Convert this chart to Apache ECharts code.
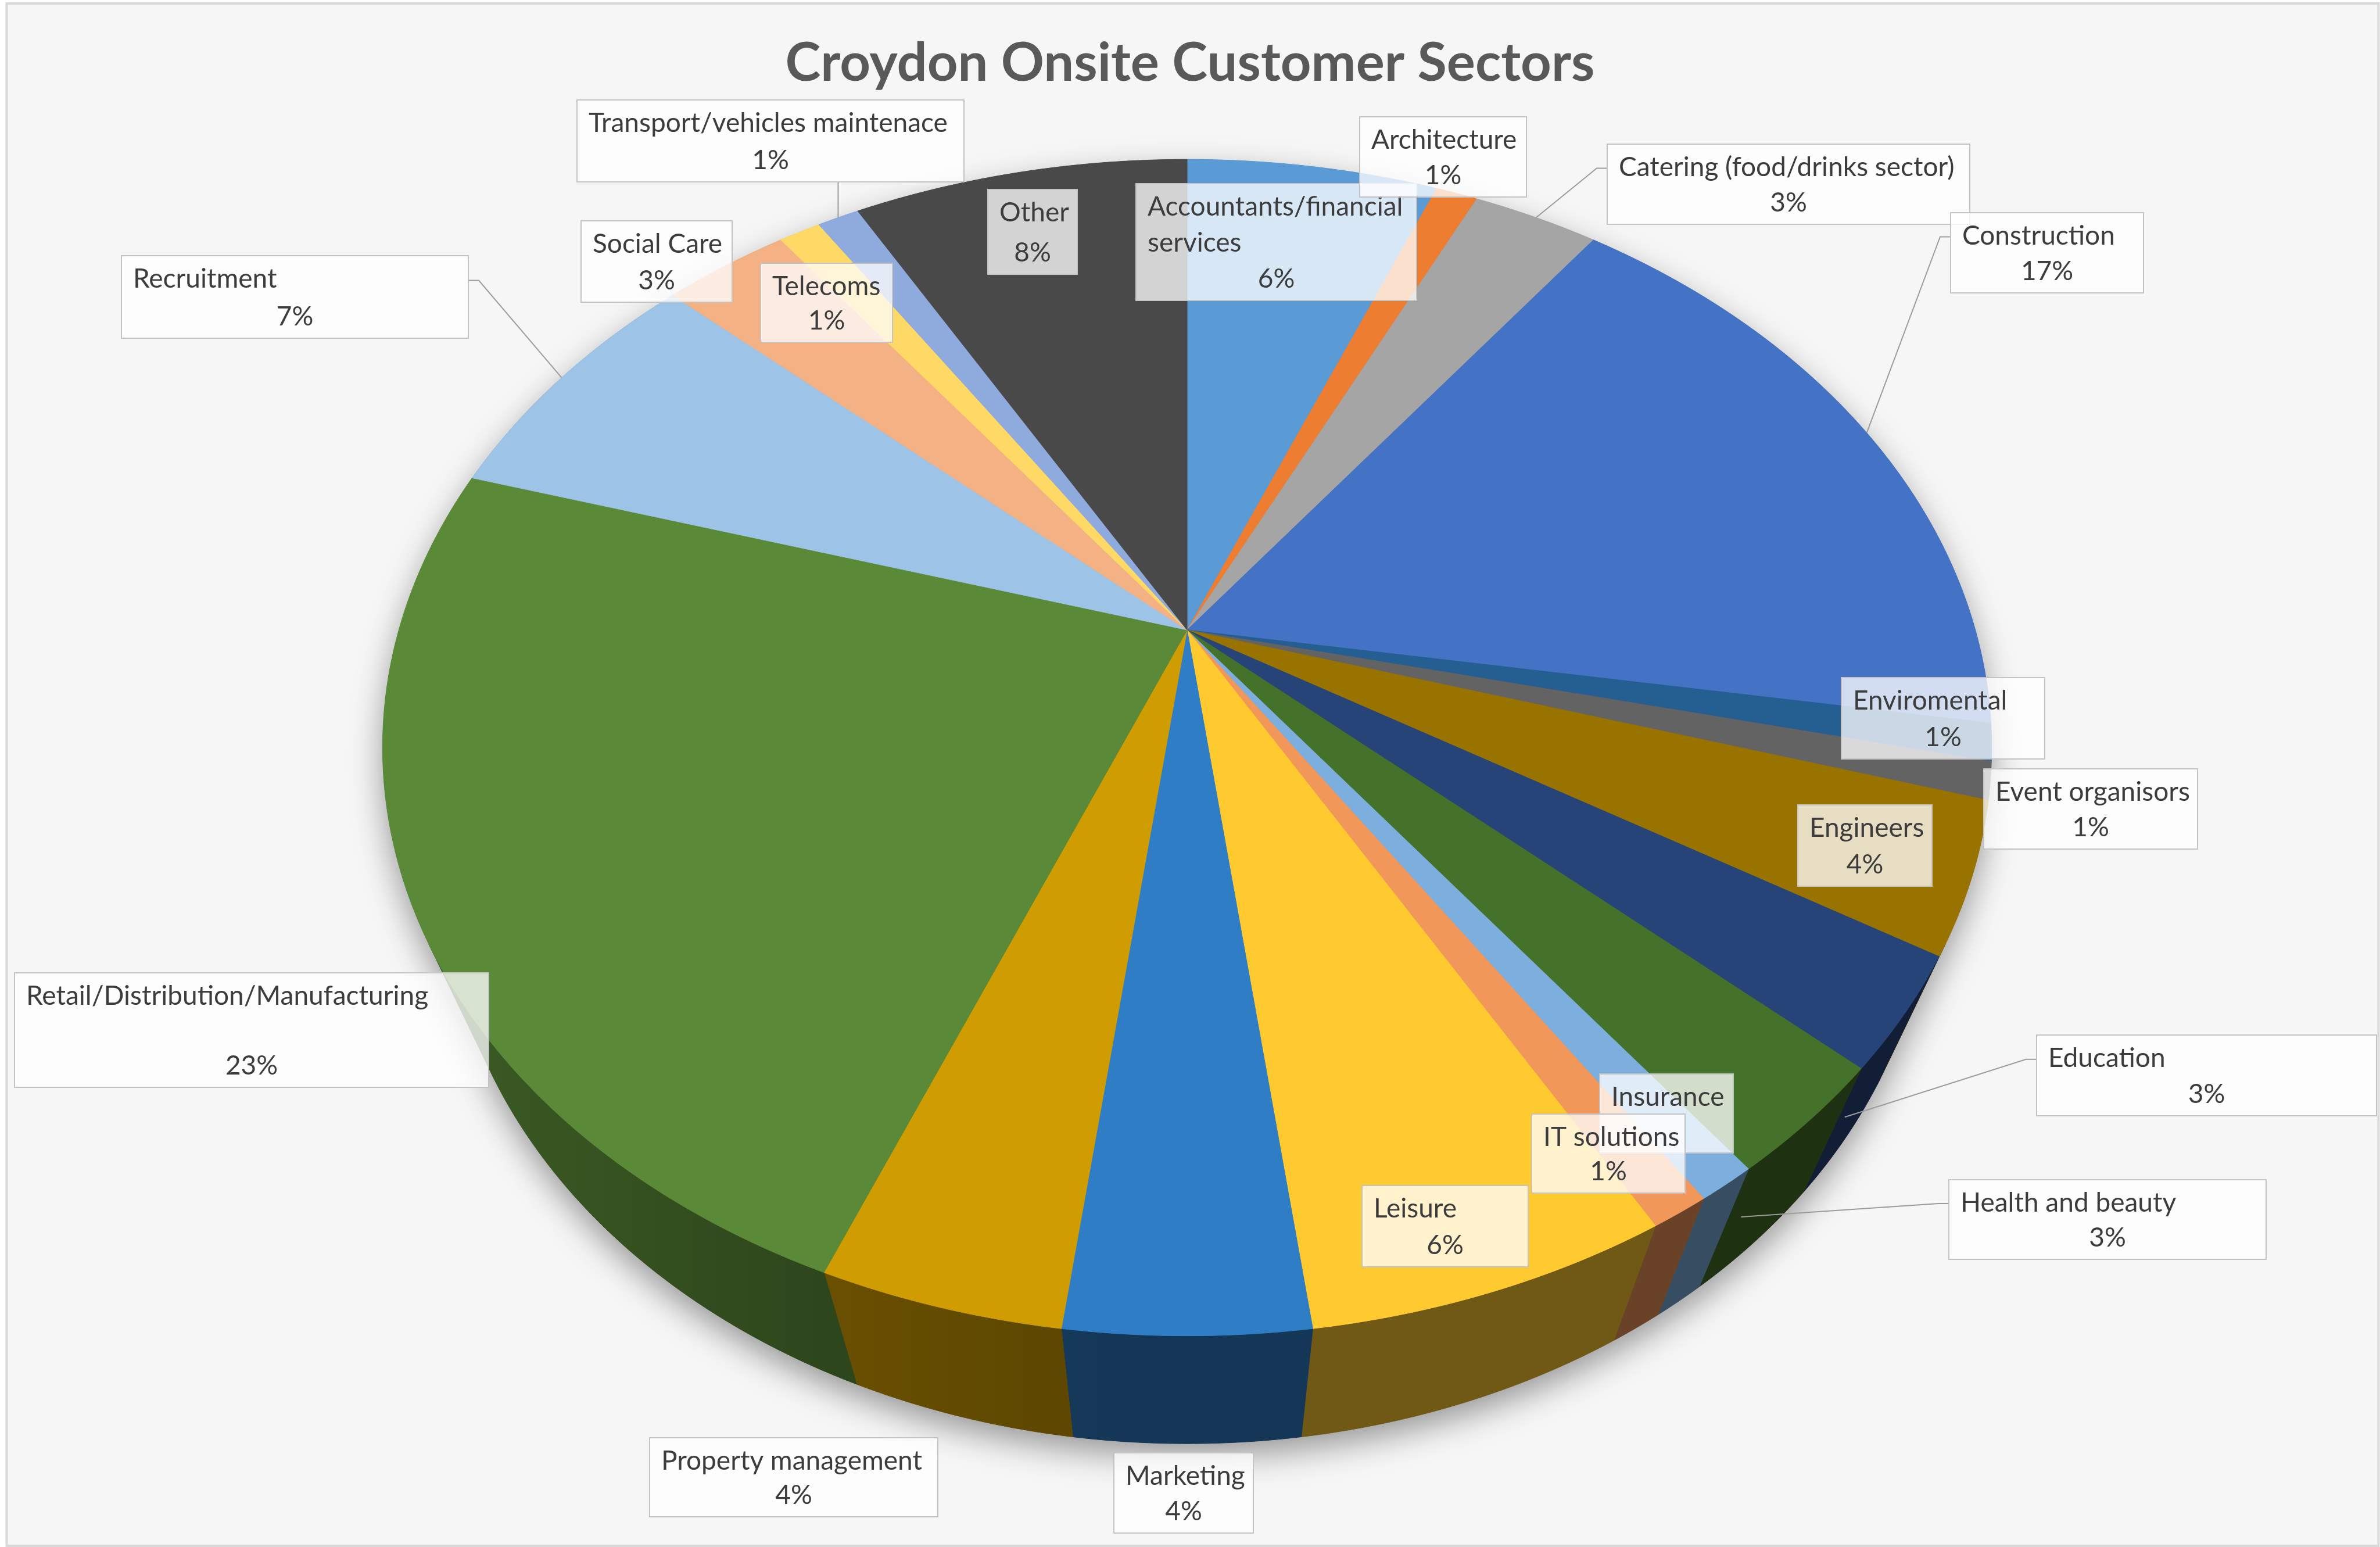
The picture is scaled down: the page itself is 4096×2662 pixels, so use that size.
<!DOCTYPE html>
<html>
<head>
<meta charset="utf-8">
<script src="https://cdn.jsdelivr.net/npm/echarts@6/dist/echarts.min.js"></script>
<style>
  html, body { margin: 0; padding: 0; background: #ffffff; }
  #chart { width: 4096px; height: 2662px; }
</style>
</head>
<body>
<div id="chart"></div>
<script>
// Customer sectors, in the order the slices run clockwise from 12 o'clock
const sectors = [
  'Accountants/financial services', 'Architecture', 'Catering (food/drinks sector)',
  'Construction', 'Enviromental', 'Event organisors', 'Engineers', 'Education',
  'Health and beauty', 'Insurance', 'IT solutions', 'Leisure', 'Marketing',
  'Property management', 'Retail/Distribution/Manufacturing', 'Recruitment',
  'Social Care', 'Telecoms', 'Transport/vehicles maintenace', 'Other'
];
// Share of customers, percent
const shares = [6, 1, 3, 17, 1, 1, 4, 3, 3, 1, 1, 6, 4, 4, 23, 7, 3, 1, 1, 8];

// Slice fill colours (top face)
const sliceColors = [
  '#5B9BD5', '#ED7D31', '#A5A5A5', '#4472C4', '#255E91', '#636363', '#997300',
  '#264478', '#45722A', '#7CAFDD', '#F1975A', '#FFC930', '#2F7EC5', '#CF9D02',
  '#5A8A37', '#9DC3E6', '#F4B183', '#FFD966', '#8FAADC', '#494949'
];

// Data label boxes: [left, top, width, height] in px
const labelBoxes = [
  [1955, 316, 483, 201], [2340, 201, 287, 138], [2766, 248, 624, 138],
  [3357, 366, 332, 138], [3169, 1166, 350, 140], [3414, 1323, 368, 138],
  [3094, 1385, 231, 140], [3505, 1781, 585, 139], [3354, 2030, 546, 137],
  [2753, 1848, 230, 136], [2636, 1917, 264, 136], [2344, 2040, 286, 140],
  [1917, 2500, 240, 138], [1118, 2474, 496, 136], [25, 1674, 816, 197],
  [209, 440, 597, 142], [1000, 380, 260, 140], [1309, 453, 227, 136],
  [993, 172, 666, 141], [1700, 326, 154, 146]
];
// Leader lines: side of the box they leave from, and where they meet the slice
const leaderSide = ['', '', 'left', 'left', '', '', '', 'left', 'left', '', '', '', '', '', '', 'right', '', '', 'down', ''];
const leaderAnchor = ['', '', 'rim', 'rim', '', '', '', 'wall', 'wall', '', '', '', '', '', '', 'rim', '', '', 'rim', ''];
// Labels whose percentage line sits underneath a neighbouring label
const valueHidden = [9];

// Perspective view of the pie disc (radius 1, thickness h)
const view = { cx: 2043, cy: 1084, fx: 4290, fy: 3967, L: 3.1623, c: 0.63246, s: 0.7746, h: 0.3295 };
const visEdge = Math.asin(1 / (view.L * view.c)) * 180 / Math.PI;   // silhouette of the side wall
const wallFrom = visEdge, wallTo = 180 - visEdge;

const LABEL_FONT = 46, LINE_GAP = 62, PAD = 20;
const FONT_FAMILY = 'Lato, "Open Sans", sans-serif';

const total = shares.reduce((a, b) => a + b, 0);
const starts = [];
shares.reduce((acc, v) => { starts.push(acc); return acc + v; }, 0);

function project(phiDeg, depth) {
  const p = phiDeg * Math.PI / 180;
  const x = Math.cos(p), z = Math.sin(p), y = -depth * view.h;
  const v = y * view.c - z * view.s;
  const w = y * view.s + z * view.c;
  const d = view.L - w;
  return [view.cx + x * view.fx / d, view.cy - v * view.fy / d];
}
function arc(a, b, depth) {
  const n = Math.max(2, Math.ceil((b - a) / 0.5));
  const pts = [];
  for (let j = 0; j <= n; j++) pts.push(project(a + (b - a) * j / n, depth));
  return pts;
}
function shade(hex, k) {
  const n = parseInt(hex.slice(1), 16);
  const r = Math.round(((n >> 16) & 255) * k), g = Math.round(((n >> 8) & 255) * k), b = Math.round((n & 255) * k);
  return 'rgb(' + r + ',' + g + ',' + b + ')';
}
// darker on the front and right of the wall, lighter towards the left edge
function wallFactor(phi) {
  if (phi <= 95) return 0.44;
  return Math.min(0.66, 0.44 + (phi - 95) / 55 * 0.22);
}

const measureCtx = document.createElement('canvas').getContext('2d');
function wrapName(text, maxW) {
  measureCtx.font = LABEL_FONT + 'px ' + FONT_FAMILY;
  const words = text.split(' ');
  const lines = [];
  let cur = '';
  words.forEach(w => {
    const trial = cur ? cur + ' ' + w : w;
    if (cur && measureCtx.measureText(trial).width > maxW) { lines.push(cur); cur = w; }
    else cur = trial;
  });
  if (cur) lines.push(cur);
  return lines;
}

function renderItem(params, api) {
  const i = params.dataIndex;
  const start = api.value(0), share = api.value(1);
  const a = -90 + 360 * start / total;
  const b = -90 + 360 * (start + share) / total;
  const color = sliceColors[i];
  const children = [];

  if (i === 0) {
    // outline of the whole solid, carrying the soft drop shadow
    const outline = arc(wallTo, wallFrom + 360, 0).concat(arc(wallFrom, wallTo, 1));
    children.push({
      type: 'polygon', z2: 0, shape: { points: outline },
      style: { fill: '#7a7a7a', shadowColor: 'rgba(0,0,0,0.38)', shadowBlur: 55, shadowOffsetY: 22 }
    });
  }

  // top face
  const topPts = [[view.cx, view.cy]].concat(arc(a, b, 0));
  children.push({
    type: 'polygon', z2: 2, shape: { points: topPts },
    style: { fill: color, stroke: color, lineWidth: 1 }
  });

  // visible part of the outer wall
  const wa = Math.max(a, wallFrom), wb = Math.min(b, wallTo);
  if (wb > wa) {
    const pts = arc(wa, wb, 0).concat(arc(wa, wb, 1).reverse());
    const p0 = project(wa, 0), p1 = project(wb, 0);
    const stops = [];
    for (let j = 0; j <= 4; j++) {
      stops.push({ offset: j / 4, color: shade(color, wallFactor(wa + (wb - wa) * j / 4)) });
    }
    const grad = {
      type: 'linear', global: true, x: p0[0], y: 0, x2: p1[0] === p0[0] ? p0[0] + 1 : p1[0], y2: 0,
      colorStops: stops
    };
    children.push({
      type: 'polygon', z2: 1, shape: { points: pts },
      style: { fill: grad, stroke: grad, lineWidth: 1 }
    });
  }

  // data label
  const [bx, by, bw, bh] = labelBoxes[i];
  const side = leaderSide[i];
  if (side) {
    let end;
    if (leaderAnchor[i] === 'wall') {
      const ang = Math.max(wa, Math.min(wb, a + (b - a) * 0.85));
      end = project(ang, 0.5);
    } else {
      end = project((a + b) / 2, 0);
    }
    let pts;
    const ly = by + bh * 0.3;
    if (side === 'left') pts = [[bx, ly], [bx - 18, ly], end];
    else if (side === 'right') pts = [[bx + bw, ly], [bx + bw + 18, ly], end];
    else pts = [[end[0], by + bh], end];
    children.push({
      type: 'polyline', z2: 5, shape: { points: pts },
      style: { stroke: '#9c9c9c', lineWidth: 2, fill: null }
    });
  }
  children.push({
    type: 'rect', z2: 20 + i * 3, shape: { x: bx, y: by, width: bw, height: bh },
    style: { fill: 'rgba(255,255,255,0.76)', stroke: '#c3c3c3', lineWidth: 2 }
  });
  wrapName(sectors[i], bw - PAD).forEach((ln, j) => {
    children.push({
      type: 'text', z2: 21 + i * 3,
      style: {
        text: ln, x: bx + PAD, y: by + 40 + j * LINE_GAP,
        align: 'left', verticalAlign: 'middle',
        font: LABEL_FONT + 'px ' + FONT_FAMILY, fill: '#3c3c3c'
      }
    });
  });
  if (valueHidden.indexOf(i) < 0) {
    children.push({
      type: 'text', z2: 21 + i * 3,
      style: {
        text: share + '%', x: bx + bw / 2, y: by + bh - 37,
        align: 'center', verticalAlign: 'middle',
        font: LABEL_FONT + 'px ' + FONT_FAMILY, fill: '#3c3c3c'
      }
    });
  }

  return { type: 'group', children };
}

function draw() {
  const chart = echarts.init(document.getElementById('chart'), null, { renderer: 'canvas' });
  chart.setOption({
    backgroundColor: '#ffffff',
    animation: false,
    title: {
      text: 'Croydon Onsite Customer Sectors',
      left: 'center', top: 58,
      textStyle: { fontFamily: 'Lato', fontWeight: 'bold', fontSize: 92, color: '#595959' }
    },
    graphic: [{
      type: 'rect', z: -1, silent: true,
      shape: { x: 11.5, y: 6, width: 4082, height: 2654 },
      style: { fill: '#f6f6f6', stroke: '#d9d9d9', lineWidth: 4 }
    }],
    series: [{
      type: 'custom',
      coordinateSystem: 'none',
      silent: true,
      data: sectors.map((name, i) => ({ name, value: [starts[i], shares[i]] })),
      renderItem
    }]
  });
}

if (document.fonts && document.fonts.load) {
  Promise.race([
    Promise.all([document.fonts.load('46px Lato'), document.fonts.load('bold 92px Lato')]),
    new Promise(r => setTimeout(r, 1500))
  ]).then(draw, draw);
} else {
  draw();
}
</script>
</body>
</html>
